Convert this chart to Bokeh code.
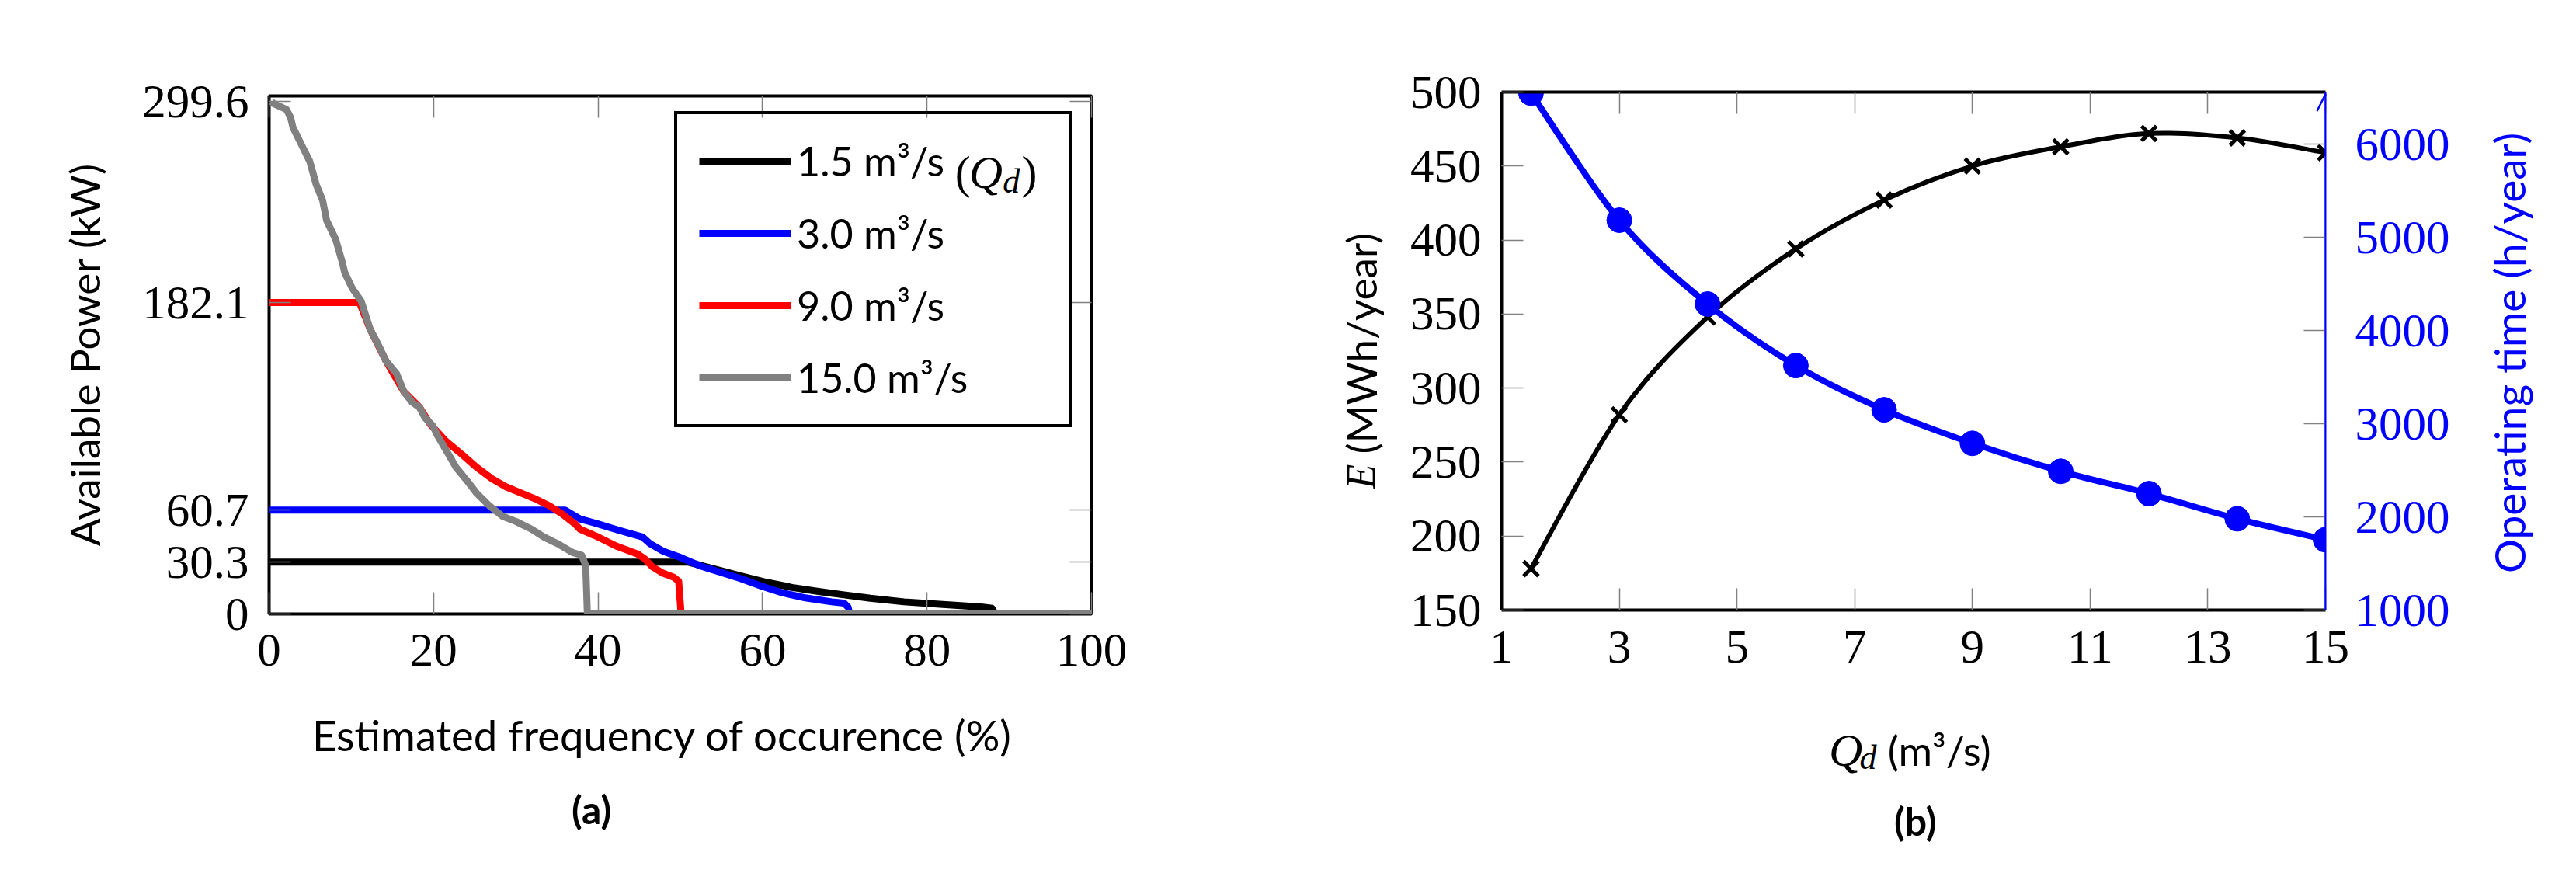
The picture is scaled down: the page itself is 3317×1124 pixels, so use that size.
import numpy as np
from bokeh.plotting import figure
from bokeh.models import (Range1d, LinearAxis, FixedTicker, Legend, LegendItem,
                          Arrow, OpenHead)
from bokeh.layouts import row, column
from bokeh.embed import file_html
from bokeh.resources import INLINE
from bokeh.core.properties import value

# ---------------- data: panel (a) ----------------
x_tick_a = [0, 20, 40, 60, 80, 100]
y_tick_a = [0, 30.3, 60.7, 182.1, 299.6]
y_tick_a_labels = ["0", "30.3", "60.7", "182.1", "299.6"]

x_q15 = [0.3, 0.5, 2.1, 2.6, 2.9, 4.15, 4.94, 5.73, 6.5, 7.0, 8.1, 8.9, 9.2, 10.1,
         11.2, 11.9, 12.3, 13.3, 14.2, 15.5, 16.4, 17.4, 18.3, 18.95, 19.9, 20.5,
         21.8, 22.7, 24.0, 25.2, 26.8, 28.4, 30.0, 31.9, 33.4, 35.3, 36.9, 38.0,
         38.5, 38.7, 100]
y_q15 = [299.6, 298.5, 295, 290.5, 284.5, 272.3, 264.7, 251, 242, 230, 219, 205.6,
         199.6, 190.5, 182.9, 172.3, 166.3, 157.2, 148, 140.5, 129.9, 123.8, 120.8,
         114.7, 110.1, 104.1, 93.5, 85.9, 78.3, 70.8, 63.2, 57.1, 54.1, 49.6, 45.0,
         40.5, 35.9, 34.4, 28.3, 0, 0]

x_q9 = [0, 11.0, 12.3, 14.2, 16.4, 18.3, 19.6, 21.5, 23.4, 25.2, 27.1, 28.7, 30.6,
        32.5, 34.1, 35.6, 37.2, 37.8, 40.0, 42.2, 44.8, 45.7, 46.6, 47.9, 49.2,
        49.8, 50.1]
y_q9 = [182.1, 182.1, 166.3, 148, 129.9, 120.8, 110.9, 101, 93.5, 85.9, 79.1, 74.6,
        70.8, 67.0, 63.2, 58.6, 52.6, 49.6, 45, 39.7, 35.1, 32.1, 27.6, 23.8, 21.5,
        19.2, 0]

x_q3 = [0, 36.0, 37.8, 40.0, 42.6, 45.4, 46.3, 47.9, 50.1, 52.3, 54.8, 57.3, 59.9,
        62.4, 65.2, 68.4, 69.9, 70.4, 70.6]
y_q3 = [60.7, 60.7, 55.6, 52.6, 48.8, 45.0, 41.2, 36.7, 32.9, 28.3, 24.5, 20.8,
        16.2, 12.4, 9.4, 7.1, 6.4, 4, 0]

x_q1 = [0, 51.0, 54.8, 57.3, 60.5, 63.6, 66.8, 69.9, 73.1, 77.2, 81.9, 86.6, 87.9, 88.3]
y_q1 = [30.3, 30.3, 25.5, 22.3, 18.5, 15.5, 13.2, 11.2, 9.2, 7.1, 5.6, 4.1, 3.3, 0]

legend_labels = ["1.5 m\u00b3/s", "3.0 m\u00b3/s", "9.0 m\u00b3/s", "15.0 m\u00b3/s"]

# ---------------- data: panel (b) ----------------
qd = [1.5, 3, 4.5, 6, 7.5, 9, 10.5, 12, 13.5, 15]
energy = [178, 282, 348, 394, 427, 450, 463, 472, 469, 459]
op_time = [6550, 5185, 4285, 3625, 3150, 2790, 2490, 2250, 1980, 1755]
x_tick_b = [1, 3, 5, 7, 9, 11, 13, 15]
y_tick_b = [150, 200, 250, 300, 350, 400, 450, 500]
y2_tick_b = [1000, 2000, 3000, 4000, 5000, 6000]

SERIF = "Liberation Serif"
SANS = "Lato"
TICK_GREY = "#808080"
TICK_SIZE = "61px"
LABEL_SIZE = "53px"
BLUE = "#0000ff"


def style_axis(ax, ticks, overrides=None, show_labels=True, label_color="black",
               line_color="black", line_width=4, standoff=26):
    ax.ticker = FixedTicker(ticks=ticks)
    if overrides:
        ax.major_label_overrides = overrides
    ax.major_tick_in = 28
    ax.major_tick_out = 0
    ax.major_tick_line_color = TICK_GREY
    ax.major_tick_line_width = 1.5
    ax.minor_tick_line_color = None
    ax.axis_line_color = line_color
    ax.axis_line_width = line_width
    ax.major_label_text_font = SERIF
    ax.major_label_text_font_size = TICK_SIZE
    ax.major_label_text_color = label_color if show_labels else None
    ax.major_label_standoff = standoff


def text_fig(w, h):
    f = figure(width=w, height=h, x_range=Range1d(0, w), y_range=Range1d(h, 0),
               output_backend="svg", toolbar_location=None, min_border=0,
               x_axis_type=None, y_axis_type=None)
    f.outline_line_color = None
    f.background_fill_color = "white"
    f.border_fill_color = "white"
    return f


def txt(f, t, x, y, font=SANS, size=LABEL_SIZE, style="normal", color="black",
        align="left", baseline="alphabetic", angle=0.0, **kw):
    f.text(x=[x], y=[y], text=[t], text_font=value(font), text_font_size=value(size),
           text_font_style=value(style), text_color=color, text_align=value(align),
           text_baseline=value(baseline), angle=angle, **kw)


def smooth_bezier(p, xs, ys, **kw):
    xs = np.asarray(xs, float)
    ys = np.asarray(ys, float)
    n = len(xs)
    i0 = np.arange(n - 1)
    i1 = i0 + 1
    prv = np.clip(i0 - 1, 0, n - 1)
    nxt = np.clip(i0 + 2, 0, n - 1)
    cx0 = xs[i0] + (xs[i1] - xs[prv]) / 6
    cy0 = ys[i0] + (ys[i1] - ys[prv]) / 6
    cx1 = xs[i1] - (xs[nxt] - xs[i0]) / 6
    cy1 = ys[i1] - (ys[nxt] - ys[i0]) / 6
    return p.bezier(x0=xs[i0], y0=ys[i0], x1=xs[i1], y1=ys[i1],
                    cx0=cx0, cy0=cy0, cx1=cx1, cy1=cy1, **kw)


# ======================= panel (a) =======================
p1 = figure(frame_width=1059, frame_height=667, x_range=Range1d(0, 100),
            y_range=Range1d(0, 302.9), output_backend="svg", toolbar_location=None,
            min_border_left=188, min_border_right=253, min_border_top=123,
            min_border_bottom=105)
p1.grid.visible = False
p1.outline_line_color = "black"
p1.outline_line_width = 4
p1.background_fill_color = "white"
p1.border_fill_color = "white"

style_axis(p1.xaxis[0], x_tick_a, line_color=None)
style_axis(p1.yaxis[0], y_tick_a,
           overrides={t: l for t, l in zip(y_tick_a, y_tick_a_labels)}, line_color=None)
ax_top = LinearAxis()
style_axis(ax_top, x_tick_a, show_labels=False, line_color=None)
p1.add_layout(ax_top, "above")
ax_right = LinearAxis()
style_axis(ax_right, y_tick_a, show_labels=False, line_color=None)
p1.add_layout(ax_right, "right")

LW = 9
r1 = p1.line(x_q1, y_q1, line_color="black", line_width=LW, line_join="round")
r3 = p1.line(x_q3, y_q3, line_color=BLUE, line_width=LW, line_join="round")
r9 = p1.line(x_q9, y_q9, line_color="#ff0000", line_width=LW, line_join="round")
r15 = p1.line(x_q15, y_q15, line_color="#808080", line_width=LW, line_join="round")

# "(Q_d)" after the first legend entry (legend background left transparent)
txt(p1, "(", 83.4, 258.1, font=SERIF, size="60px")
txt(p1, "Q", 85.1, 258.1, font=SERIF, size="60px", style="italic")
txt(p1, "d", 89.2, 253.0, font=SERIF, size="44px", style="italic")
txt(p1, ")", 91.5, 258.1, font=SERIF, size="60px")

legend = Legend(items=[LegendItem(label=legend_labels[0], renderers=[r1]),
                       LegendItem(label=legend_labels[1], renderers=[r3]),
                       LegendItem(label=legend_labels[2], renderers=[r9]),
                       LegendItem(label=legend_labels[3], renderers=[r15])],
                location=(522, 240), margin=0, padding=28, spacing=29,
                glyph_width=118, glyph_height=64, label_height=64, label_width=323,
                label_standoff=8, label_text_font=SANS, label_text_font_size="52px",
                label_text_color="black",
                border_line_color="black", border_line_width=4, border_line_alpha=1.0,
                background_fill_alpha=0.0)
p1.add_layout(legend)

ylab1 = text_fig(158, 1116)
txt(ylab1, "Available Power (kW)", 108, 456, align="center", baseline="middle",
    angle=np.pi / 2)
bottom1 = text_fig(1500, 221)
txt(bottom1, "Estimated frequency of occurence (%)", 717.5, 50, size="54.5px",
    align="center")
txt(bottom1, "(a)", 588, 146, style="bold", size="50px", align="center",
    baseline="middle")

# ======================= panel (b) =======================
p2 = figure(frame_width=1061, frame_height=667, x_range=Range1d(1, 15),
            y_range=Range1d(150, 500), output_backend="svg", toolbar_location=None,
            min_border_left=135, min_border_right=176, min_border_top=118,
            min_border_bottom=110)
p2.extra_y_ranges = {"right": Range1d(1000, 6561)}
p2.grid.visible = False
p2.outline_line_color = None
p2.background_fill_color = "white"
p2.border_fill_color = "white"

style_axis(p2.xaxis[0], x_tick_b, standoff=27)
style_axis(p2.yaxis[0], y_tick_b)
axb_top = LinearAxis()
style_axis(axb_top, x_tick_b, show_labels=False)
p2.add_layout(axb_top, "above")
axb_right = LinearAxis(y_range_name="right")
style_axis(axb_right, y2_tick_b, label_color=BLUE, line_color=BLUE,
           line_width=2, standoff=38)
p2.add_layout(axb_right, "right")

smooth_bezier(p2, qd, energy, line_color="black", line_width=6)
p2.scatter(qd, energy, marker="x", size=27, line_color="black", line_width=5)
smooth_bezier(p2, qd, op_time, line_color=BLUE, line_width=8, y_range_name="right")
p2.scatter(qd, op_time, marker="circle", size=32, fill_color=BLUE,
           line_color=BLUE, y_range_name="right")

p2.add_layout(Arrow(end=OpenHead(size=22, line_color=BLUE, line_width=2.5),
                    x_start=15, x_end=15, y_start=1000, y_end=6540,
                    y_range_name="right", line_color=BLUE, line_width=2))

ylab2 = text_fig(140, 1116)
txt(ylab2, "E", 94, 629, font=SERIF, size="52px", style="italic", angle=np.pi / 2)
txt(ylab2, "(MWh/year)", 94, 584, angle=np.pi / 2)
bottom2 = text_fig(1372, 221)
txt(bottom2, "Q", 545, 70, font=SERIF, size="60px", style="italic")
txt(bottom2, "d", 596, 80, font=SERIF, size="44px", style="italic")
txt(bottom2, "(m\u00b3/s)", 643, 70)
txt(bottom2, "(b)", 689, 161, style="bold", size="50px", align="center",
    baseline="middle")
ylab2r = text_fig(139, 1116)
txt(ylab2r, "Operating time (h/year)", 60, 454, size="55px", color=BLUE,
    align="center", baseline="middle", angle=np.pi / 2)

layout = row(row(ylab1, column(p1, bottom1)),
             row(ylab2, column(p2, bottom2), ylab2r))
open("out.html", "w").write(file_html(layout, INLINE))
